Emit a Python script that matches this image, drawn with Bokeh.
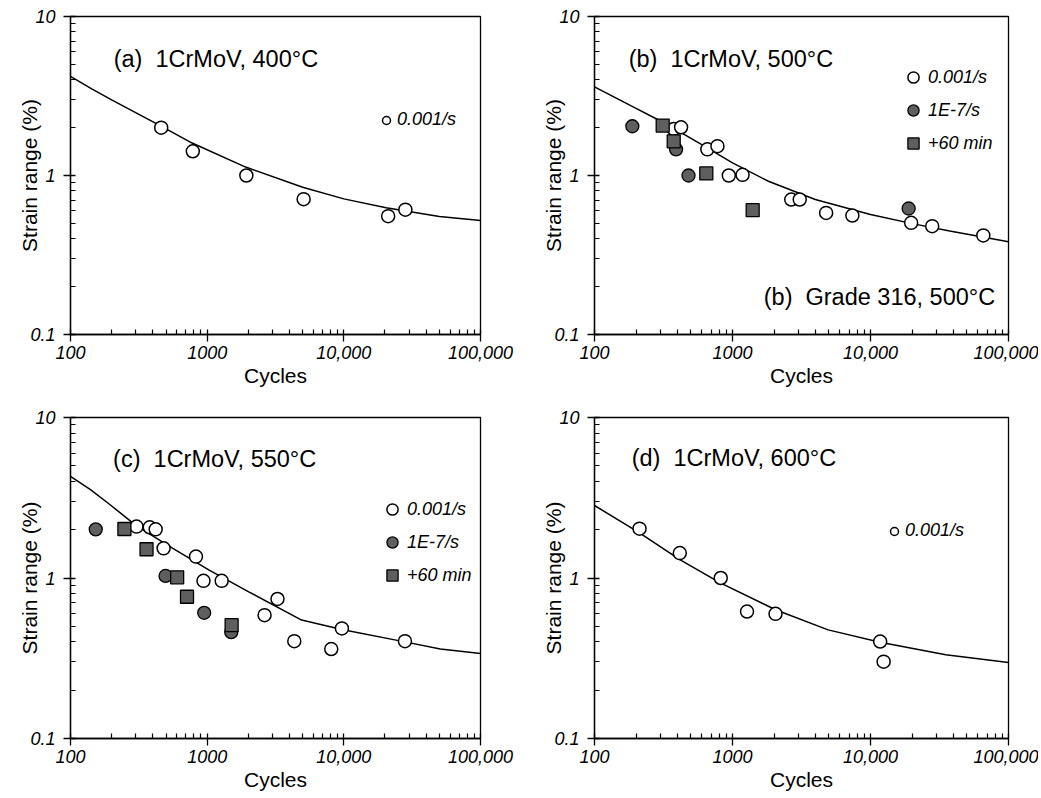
from bokeh.plotting import figure
from bokeh.layouts import column, row
from bokeh.models import Range1d, FixedTicker, Label, Legend, LegendItem
from bokeh.embed import file_html
from bokeh.resources import INLINE

# ---------------- data ----------------
x_ticks = [100, 1000, 10000, 100000]
x_tick_labels = ["100", "1000", "10,000", "100,000"]
x_minor = [200, 300, 400, 500, 600, 700, 800, 900,
           2000, 3000, 4000, 5000, 6000, 7000, 8000, 9000,
           20000, 30000, 40000, 50000, 60000, 70000, 80000, 90000]
y_ticks = [0.1, 1, 10]
y_tick_labels = ["0.1", "1", "10"]
y_minor = [0.2, 0.3, 0.4, 0.5, 0.6, 0.7, 0.8, 0.9, 2, 3, 4, 5, 6, 7, 8, 9]

series_names = ["0.001/s", "1E-7/s", "+60 min"]

# (a) 1CrMoV, 400°C
a_title = "(a)  1CrMoV, 400°C"
a_fast_n = [461, 785, 1935, 5080, 21100, 28200]
a_fast_s = [2.0, 1.42, 1.0, 0.71, 0.555, 0.61]
a_fit_n = [100, 143, 200, 467, 776, 1912, 5000, 10000, 20400, 50000, 100000]
a_fit_s = [4.2, 3.51, 2.99, 2.03, 1.6, 1.13, 0.844, 0.713, 0.626, 0.552, 0.521]

# (b) 1CrMoV, 500°C
b_title = "(b)  1CrMoV, 500°C"
b_note = "(b)  Grade 316, 500°C"
b_fast_n = [375, 424, 657, 778, 940, 1183, 2665, 3070, 4770, 7390, 19700, 28000, 65700]
b_fast_s = [1.96, 2.01, 1.46, 1.53, 1.0, 1.01, 0.706, 0.706, 0.582, 0.56, 0.504, 0.48, 0.42]
b_slow_n = [188, 390, 480, 18900]
b_slow_s = [2.04, 1.46, 1.0, 0.62]
b_hold_n = [312, 375, 646, 1400]
b_hold_s = [2.06, 1.64, 1.03, 0.605]
b_fit_n = [100, 183, 321, 657, 1000, 1820, 3980, 10000, 19700, 37500, 100000]
b_fit_s = [3.61, 2.75, 2.14, 1.49, 1.2, 0.92, 0.706, 0.568, 0.5, 0.447, 0.383]

# (c) 1CrMoV, 550°C
c_title = "(c)  1CrMoV, 550°C"
c_fast_n = [304, 380, 420, 480, 828, 940, 1277, 3270, 2630, 4340, 8090, 9680, 28000]
c_fast_s = [2.09, 2.07, 2.01, 1.53, 1.36, 0.96, 0.96, 0.74, 0.587, 0.404, 0.361, 0.485, 0.404]
c_slow_n = [153, 496, 951, 1500]
c_slow_s = [2.01, 1.03, 0.607, 0.46]
c_hold_n = [248, 360, 603, 712, 1510]
c_hold_s = [2.02, 1.51, 1.01, 0.764, 0.508]
c_fit_n = [100, 140, 195, 304, 561, 1034, 2015, 4910, 9680, 28000, 50800, 100000]
c_fit_s = [4.3, 3.55, 2.86, 2.11, 1.53, 1.12, 0.82, 0.547, 0.478, 0.40, 0.361, 0.338]

# (d) 1CrMoV, 600°C
d_title = "(d)  1CrMoV, 600°C"
d_fast_n = [212, 415, 822, 1274, 2050, 11750, 12450]
d_fast_s = [2.03, 1.43, 1.0, 0.618, 0.598, 0.402, 0.301]
d_fit_n = [100, 212, 415, 822, 2050, 4930, 11750, 35100, 100000]
d_fit_s = [2.83, 1.91, 1.3, 0.93, 0.634, 0.475, 0.398, 0.332, 0.298]

# ---------------- styling ----------------
FONT = "Liberation Sans"
GREY = "#5f5f5f"


def keep_spaces(s):
    return s.replace("  ", "\u00a0 ")


def make_panel(left_col, top_row, fit_n, fit_s, fast, slow, hold,
               title, title_xy, legend_geom, extra=None):
    fw = 410 if left_col else 414
    fh = 318 if top_row else 321
    p = figure(x_axis_type="log", y_axis_type="log",
               x_range=Range1d(100, 100000), y_range=Range1d(0.1, 10),
               frame_width=fw, frame_height=fh,
               min_border_left=70 if left_col else 62,
               min_border_right=52 if left_col else 30,
               min_border_top=16 if top_row else 8,
               min_border_bottom=75 if top_row else 58,
               output_backend="svg", toolbar_location=None)
    p.grid.visible = False
    p.outline_line_color = "black"
    p.outline_line_width = 1.3
    p.outline_line_alpha = 1.0
    p.background_fill_color = "white"
    p.border_fill_color = "white"

    p.xaxis.ticker = FixedTicker(ticks=x_ticks, minor_ticks=x_minor)
    p.yaxis.ticker = FixedTicker(ticks=y_ticks, minor_ticks=y_minor)
    p.xaxis.major_label_overrides = {t: l for t, l in zip(x_ticks, x_tick_labels)}
    p.yaxis.major_label_overrides = {t: l for t, l in zip(y_ticks, y_tick_labels)}
    for ax in (p.xaxis[0], p.yaxis[0]):
        ax.axis_line_width = 1.3
        ax.major_tick_line_width = 1.3
        ax.minor_tick_line_width = 1.2
        ax.major_tick_in = 5
        ax.major_tick_out = 7
        ax.minor_tick_in = 5
        ax.minor_tick_out = 0
        ax.major_label_text_font = FONT
        ax.major_label_text_font_size = "18px"
        ax.major_label_text_font_style = "italic"
        ax.major_label_text_color = "black"
        ax.axis_label_text_font = FONT
        ax.axis_label_text_font_size = "21px"
        ax.axis_label_text_font_style = "normal"
        ax.axis_label_text_color = "black"
    p.xaxis.axis_label = "Cycles"
    p.yaxis.axis_label = "Strain range (%)"
    p.xaxis.major_label_standoff = 4
    p.xaxis.axis_label_standoff = 2
    p.yaxis.major_label_standoff = 8
    p.yaxis.axis_label_standoff = -14

    p.line(fit_n, fit_s, line_color="black", line_width=1.5)

    r_fast = p.scatter(fast[0], fast[1], marker="circle", size=13,
                       fill_color="white", line_color="black", line_width=1.5)
    items = [LegendItem(label=series_names[0], renderers=[r_fast])]
    if slow is not None:
        r_slow = p.scatter(slow[0], slow[1], marker="circle", size=13,
                           fill_color=GREY, line_color="black", line_width=1.3)
        items.append(LegendItem(label=series_names[1], renderers=[r_slow]))
    if hold is not None:
        r_hold = p.scatter(hold[0], hold[1], marker="square", size=13,
                           fill_color=GREY, line_color="black", line_width=1.3)
        items.append(LegendItem(label=series_names[2], renderers=[r_hold]))

    (lx, ly), gsize, spacing = legend_geom
    legend = Legend(items=items, location=(lx, ly), padding=0, margin=0,
                    spacing=spacing, glyph_width=gsize, glyph_height=gsize,
                    label_height=gsize, label_standoff=1,
                    label_text_font=FONT, label_text_font_size="18px",
                    label_text_font_style="italic", label_text_color="black",
                    border_line_alpha=0, background_fill_alpha=0)
    p.add_layout(legend, "center")

    p.add_layout(Label(x=title_xy[0], y=title_xy[1], text=keep_spaces(title),
                       text_font=FONT, text_font_size="23.5px",
                       text_baseline="alphabetic", text_color="black"))
    if extra is not None:
        p.add_layout(Label(x=extra[1][0], y=extra[1][1], text=keep_spaces(extra[0]),
                           text_font=FONT, text_font_size="23.5px",
                           text_baseline="alphabetic", text_color="black"))
    return p


pa = make_panel(True, True, a_fit_n, a_fit_s, (a_fast_n, a_fast_s), None, None,
                a_title, (207, 5.37), ((306, 204), 20, 5))
pb = make_panel(False, True, b_fit_n, b_fit_s, (b_fast_n, b_fast_s),
                (b_slow_n, b_slow_s), (b_hold_n, b_hold_s),
                b_title, (177, 5.44), ((305, 177), 28, 5),
                extra=(b_note, (1684, 0.171)))
pc = make_panel(True, False, c_fit_n, c_fit_s, (c_fast_n, c_fast_s),
                (c_slow_n, c_slow_s), (c_hold_n, c_hold_s),
                c_title, (205, 5.54), ((308, 149), 28, 5))
pd = make_panel(False, False, d_fit_n, d_fit_s, (d_fast_n, d_fast_s), None, None,
                d_title, (186, 5.57), ((290, 197), 20, 5))

layout = column(row(pa, pb), row(pc, pd))
open("out.html", "w").write(file_html(layout, INLINE))
